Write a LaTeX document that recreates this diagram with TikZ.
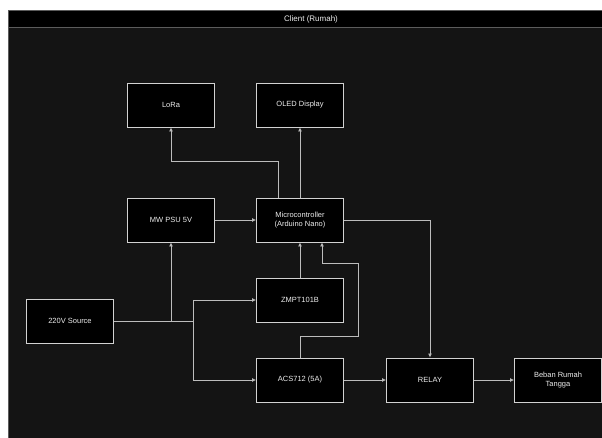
\documentclass[tikz,border=0pt]{standalone}
\usepackage{fontspec}
\setmainfont{Liberation Sans}
\usetikzlibrary{arrows.meta}
\definecolor{RumahBg}{HTML}{141414}
\definecolor{RumahFrame}{HTML}{5C5C5C}
\definecolor{RumahLine}{HTML}{BDBDBD}
\definecolor{RumahBox}{HTML}{D2D2D2}
\definecolor{RumahText}{HTML}{EDEDED}

\begin{document}
\begin{tikzpicture}[x=1pt,y=1pt,
    blok/.style={draw=RumahBox,fill=black,line width=0.9pt,minimum width=87pt,minimum height=44pt,
      inner sep=0pt,text=RumahText,font=\fontsize{7.5}{9}\selectfont,align=center},
    link/.style={RumahLine,line width=0.8pt,-{Latex[length=4pt,width=4pt]}}]
    \useasboundingbox (0,0) rectangle (602,438);
    \clip (0,0) rectangle (602,438);
    \fill[white] (0,0) rectangle (602,438);
    % frame and title bar
    \draw[RumahFrame,fill=RumahBg,line width=1pt] (8,-2) rectangle (614,427);
    \draw[RumahFrame,fill=black,line width=1pt] (8,410) rectangle (614,427);
    \node[text=RumahText,font=\fontsize{8}{10}\selectfont] (judul) at (311,418.5) {Client (Rumah)};
    % blocks
    \node[blok] (lora)  at (171,333) {LoRa};
    \node[blok] (oled)  at (300,333) {OLED Display};
    \node[blok] (psu)   at (171,218) {MW PSU 5V};
    \node[blok] (mcu)   at (300,218) {Microcontroller\\(Arduino Nano)};
    \node[blok] (zmpt)  at (300,138) {ZMPT101B};
    \node[blok] (src)   at (70,117)  {220V Source};
    \node[blok] (acs)   at (300,58)  {ACS712 (5A)};
    \node[blok] (relay) at (430,58)  {RELAY};
    \node[blok] (beban) at (558,58)  {Beban Rumah\\Tangga};
    % connections
    \draw[link] ([xshift=-22pt]mcu.north) -- ++(0,36) -| (lora.south);
    \draw[link] (mcu.north) -- (oled.south);
    \draw[link] (psu.east) -- (mcu.west);
    \draw[link] (src.east) -| (psu.south);
    \draw[link] (src.east) -| ([xshift=-63pt]zmpt.west) -- (zmpt.west);
    \draw[link] (src.east) -| ([xshift=-63pt]acs.west) -- (acs.west);
    \draw[link] (zmpt.north) -- (mcu.south);
    \draw[link] (acs.north) -- ++(0,21) -- ++(58,0) -- ++(0,73) -| ([xshift=22pt]mcu.south);
    \draw[link] (mcu.east) -| (relay.north);
    \draw[link] (acs.east) -- (relay.west);
    \draw[link] (relay.east) -- (beban.west);
  \end{tikzpicture}
\end{document}
